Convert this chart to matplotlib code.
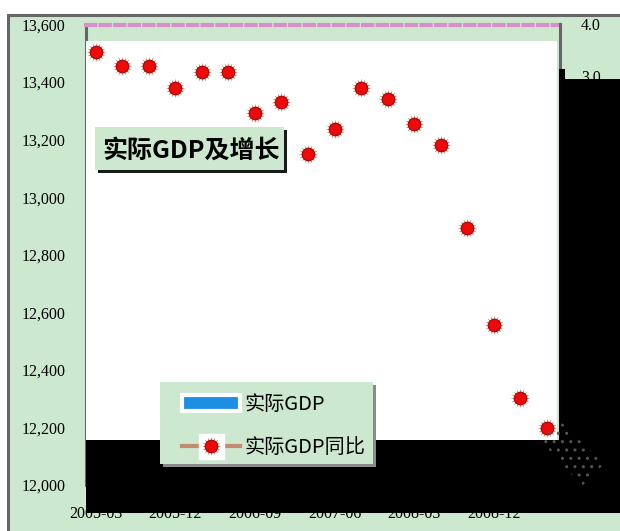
import matplotlib
matplotlib.use("Agg")
import matplotlib.pyplot as plt
import matplotlib.patheffects as pe
from matplotlib.patches import Rectangle, Polygon, Patch
from matplotlib.lines import Line2D
from matplotlib.legend_handler import HandlerTuple

plt.rcParams["font.family"] = ["Noto Sans CJK SC", "DejaVu Sans"]

# quarterly data
quarters = ["2005-03", "2005-06", "2005-09", "2005-12", "2006-03", "2006-06",
            "2006-09", "2006-12", "2007-03", "2007-06", "2007-09", "2007-12",
            "2008-03", "2008-06", "2008-09", "2008-12", "2009-03", "2009-06"]
growth = [3.46, 3.18, 3.18, 2.75, 3.07, 3.07, 2.28, 2.48, 1.47,
          1.96, 2.76, 2.55, 2.06, 1.65, 0.02, -1.87, -3.29, -3.88]
gdp_ticks = [12000, 12200, 12400, 12600, 12800, 13000, 13200, 13400, 13600]
growth_ticks = [-5.0, -4.0, -3.0, -2.0, -1.0, 0.0, 1.0, 2.0, 3.0, 4.0]
label_step = 3

W, H = 620, 531
green = "#cce8cf"
serif = "Liberation Serif"


def fx(x):
    return x / W


def fy(y):
    return 1 - y / H


def box(x0, y0, x1, y1, **kw):
    # rectangle given in picture pixels (origin top-left)
    return Rectangle((fx(x0), fy(y1)), fx(x1) - fx(x0), fy(y0) - fy(y1), **kw)


fig = plt.figure(figsize=(6.2, 5.31), dpi=100)
fig.patch.set_facecolor("white")

# green page with grey frame
fig.add_artist(box(7.5, 14.5, 700, 700, transform=fig.transFigure,
                   facecolor=green, edgecolor="#666666", linewidth=2.2, zorder=-5))

ax = fig.add_axes([fx(86), fy(485), fx(560) - fx(86), fy(24.5) - fy(485)])
ax.set_facecolor("none")
ax2 = ax.twinx()

x = list(range(len(quarters)))
ax.set_xlim(-0.37, 17.5)
ax.set_ylim(12000, 13600)
ax2.set_ylim(-5, 4)

for s in ["bottom", "right"]:
    ax.spines[s].set_visible(False)
ax.spines["left"].set_color("#666666")
ax.spines["left"].set_linewidth(2.2)
ax.spines["top"].set_color("#d98fcb")
ax.spines["top"].set_linewidth(3)
ax.spines["top"].set_linestyle((0, (2.2, 1.3)))
for s in ["bottom", "left", "top"]:
    ax2.spines[s].set_visible(False)
ax2.spines["right"].set_color("#666666")
ax2.spines["right"].set_linewidth(2.2)
ax2.spines["right"].set_zorder(1)

# white plotting area
ax2.add_patch(box(86, 41, 557, 440, transform=fig.transFigure, facecolor="white",
                  edgecolor="none", zorder=0.5, clip_on=False))

# growth markers: fuzzy brown rim + red ball
star_kw = dict(marker=(16, 1, 0), ms=14, mfc="#9a5a3a", mec="none", alpha=0.8)
ball_kw = dict(marker="o", ms=9, mfc="#ee0a0a", mec="#b00000", mew=0.8)
ax2.plot(x, growth, ls="none", zorder=2, **star_kw)
ax2.plot(x, growth, ls="none", zorder=2.05, **ball_kw)

# black blocks
for r in [(86, 440, 700, 513), (559, 79, 700, 440), (559, 69, 565, 79)]:
    ax2.add_patch(box(*r, transform=fig.transFigure, facecolor="black",
                      edgecolor="none", zorder=2.2, clip_on=False))
ax2.add_patch(Polygon([(fx(560), fy(421)), (fx(541), fy(441)), (fx(582), fy(486)),
                       (fx(604), fy(464))], closed=True, transform=fig.transFigure,
                      facecolor="none", edgecolor="#555555", linewidth=0, hatch="..",
                      zorder=2.3, clip_on=False))

ax.set_xticks(x[::label_step], labels=quarters[::label_step], fontfamily=serif, fontsize=11.5)
ax.set_yticks(gdp_ticks, labels=[f"{v:,}" for v in gdp_ticks], fontfamily=serif, fontsize=11.5)
ax2.set_yticks(growth_ticks, labels=[f"{v:.1f}" for v in growth_ticks], fontfamily=serif,
               fontsize=11.5)
ax.tick_params(axis="x", length=0, pad=15)
ax.tick_params(axis="y", length=0, pad=14.5)
ax2.tick_params(axis="y", length=0, pad=15)
for lbl, v in zip(ax2.get_yticklabels(), growth_ticks):
    lbl.set_color("#e60000" if v < 0 else "black")

# title box
fig.add_artist(box(95, 127, 284, 170, transform=fig.transFigure, facecolor=green,
                   edgecolor="none", zorder=9,
                   path_effects=[pe.withSimplePatchShadow(offset=(2.2, -2.2),
                                                          shadow_rgbFace="#1a1a1a", alpha=1)]))
fig.text(fx(191), fy(151), "实际GDP及增长", ha="center", va="center", fontsize=18,
         fontweight="bold", zorder=10)

# legend: separate panel, frameless legend on top
fig.add_artist(box(160, 382, 373, 464, transform=fig.transFigure, facecolor=green,
                   edgecolor="none", zorder=9.5,
                   path_effects=[pe.withSimplePatchShadow(offset=(2, -2),
                                                          shadow_rgbFace="#8a8a8a", alpha=1)]))
h_bar = Patch(facecolor="#1c8ee4", edgecolor="white", linewidth=3)
h_line = Line2D([], [], color="#c48a6e", lw=3)
h_sq = Line2D([], [], ls="none", marker="s", ms=18, mfc="white", mec="white")
h_star = Line2D([], [], ls="none", **star_kw)
h_dot = Line2D([], [], ls="none", **ball_kw)
leg = fig.legend([h_bar, (h_line, h_sq, h_star, h_dot)], ["实际GDP", "实际GDP同比"],
                 handler_map={tuple: HandlerTuple(ndivide=1, pad=0)},
                 loc="upper left", bbox_to_anchor=(fx(182), fy(394)),
                 bbox_transform=fig.transFigure, borderaxespad=0, frameon=False,
                 prop={"family": ["Noto Sans CJK SC", "DejaVu Sans"], "size": 14.5},
                 handlelength=2.9, handleheight=0.8, handletextpad=0.2,
                 labelspacing=1.1, borderpad=0)
leg.set_zorder(10)

fig.savefig("out.png", dpi=100)
